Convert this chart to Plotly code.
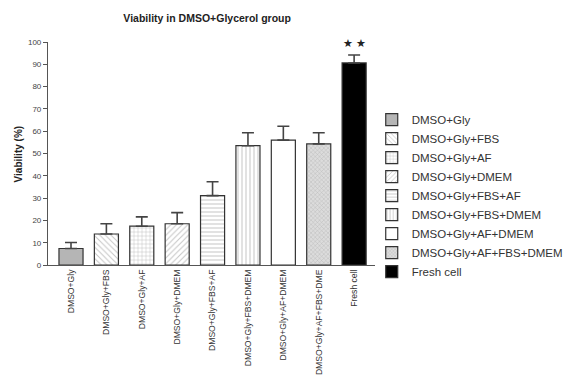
import plotly.graph_objects as go

categories = ["DMSO+Gly", "DMSO+Gly+FBS", "DMSO+Gly+AF", "DMSO+Gly+DMEM",
              "DMSO+Gly+FBS+AF", "DMSO+Gly+FBS+DMEM", "DMSO+Gly+AF+DMEM",
              "DMSO+Gly+AF+FBS+DME", "Fresh cell"]
legend_names = ["DMSO+Gly", "DMSO+Gly+FBS", "DMSO+Gly+AF", "DMSO+Gly+DMEM",
                "DMSO+Gly+FBS+AF", "DMSO+Gly+FBS+DMEM", "DMSO+Gly+AF+DMEM",
                "DMSO+Gly+AF+FBS+DMEM", "Fresh cell"]
viability = [7.4, 13.9, 17.4, 18.5, 31.1, 53.5, 56.0, 54.3, 90.6]
errors = [2.7, 4.6, 4.2, 5.0, 6.2, 5.8, 6.2, 5.0, 3.6]

fills = ["#b5b5b5", "white", "white", "white", "white", "white", "white", "#dcdcdc", "black"]
shapes = ["", "\\", "+", "/", "-", "|", "", "x", ""]
pattern_fg = "#8a8a8a"

fig = go.Figure()
for i, (cat, name, v, e) in enumerate(zip(categories, legend_names, viability, errors)):
    fig.add_trace(go.Bar(
        x=[i], y=[v], name=name, width=0.68,
        marker=dict(color=fills[i],
                    line=dict(color="#333333", width=1.2),
                    pattern=dict(shape=shapes[i], fgcolor=pattern_fg, bgcolor=fills[i],
                                 size=4 if shapes[i] not in ("x",) else 3, solidity=0.25)),
        error_y=dict(type="data", array=[e], arrayminus=[0], symmetric=False,
                     color="#444444", thickness=1.6, width=6),
    ))

fig.add_annotation(x=8, y=99.5, text="★ ★", showarrow=False,
                   font=dict(size=11, color="#222222"))
fig.add_annotation(xref="paper", yref="paper", x=-0.089, y=0.5, text="<b>Viability (%)</b>",
                   textangle=-90, showarrow=False, xanchor="center", yanchor="middle",
                   font=dict(family="Liberation Sans", size=10, color="#222222"))

fig.update_layout(
    width=569, height=371,
    margin=dict(l=40, r=202, t=34, b=114, autoexpand=False),
    paper_bgcolor="white", plot_bgcolor="white",
    barmode="overlay",
    title=dict(text="<b>Viability in DMSO+Glycerol group</b>", x=0.35, xanchor="center",
               y=0.973, yanchor="middle", font=dict(family="Liberation Sans", size=10.5, color="#222222")),
    font=dict(family="Liberation Sans", color="#333333"),
    showlegend=True,
    legend=dict(x=0.99, y=0.717, xanchor="left", yanchor="top",
                font=dict(family="Liberation Sans", size=11.5, color="#333333"),
                tracegroupgap=0, itemwidth=30, bgcolor="rgba(0,0,0,0)"),
    xaxis=dict(range=[-0.65, 8.59], tickmode="array", tickvals=list(range(9)),
               ticktext=categories, tickangle=-90, showline=True, linecolor="#555555",
               linewidth=1.2, ticks="", showgrid=False, zeroline=False, automargin=False,
               tickfont=dict(size=8.6, color="#333333")),
    yaxis=dict(range=[0, 100], tickmode="array", tickvals=list(range(0, 101, 10)),
               showline=True, linecolor="#555555", linewidth=1.2, ticks="outside",
               ticklen=4, tickcolor="#555555", showgrid=False, zeroline=False, automargin=False,
               tickfont=dict(size=8, color="#444444")),
)

fig.write_html("out.html")
